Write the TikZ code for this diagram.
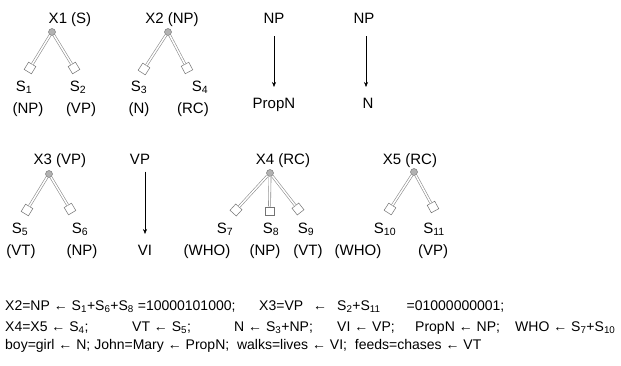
\documentclass[tikz,border=0pt]{standalone}
\usepackage{fontspec}
\setmainfont{Liberation Sans}
\usetikzlibrary{arrows.meta}
\newcommand\sbx[1]{\textsubscript{#1}}
\begin{document}
\begin{tikzpicture}[x=1pt,y=-1pt,
  lbl/.style={font=\fontsize{15}{18}\selectfont, inner sep=0pt, anchor=base},
  txt/.style={font=\fontsize{14}{17}\selectfont, inner sep=0pt, anchor=base west},
  rootdot/.style={circle, fill=gray!60, draw=gray!85!black, line width=0.4pt, minimum size=7pt, inner sep=0pt},
  leafbox/.style={rectangle, draw=gray!90!black, fill=white, line width=0.5pt, minimum size=8.5pt, inner sep=0pt},
  conn/.style={draw=gray!90, line width=0.6pt, double=white, double distance=1.5pt},
  arr/.style={-{Stealth[length=5pt,width=4pt]}, line width=0.5pt}
]
\useasboundingbox[fill=white] (0,0) rectangle (621,365);

% ---------- tree X1 ----------
\node[lbl] (x1) at (70,23) {X1 (S)};
\node[rootdot] (r1) at (52,32) {};
\coordinate (c1) at (30,68);
\coordinate (c2) at (74,68);
\path (r1.center) -- (c1) node[leafbox, sloped, pos=1] (b1) {};
\path (r1.center) -- (c2) node[leafbox, sloped, pos=1] (b2) {};
\draw[conn] (r1) -- (b1);
\draw[conn] (r1) -- (b2);
\node[lbl] (s1) at (24,91) {S\sbx{1}};
\node[lbl] (s2) at (78,91) {S\sbx{2}};
\node[lbl] (t1) at (28,113.5) {(NP)};
\node[lbl] (t2) at (81,113.5) {(VP)};

% ---------- tree X2 ----------
\node[lbl] (x2) at (172,23) {X2 (NP)};
\node[rootdot] (r2) at (168,32) {};
\coordinate (c3) at (144,69);
\coordinate (c4) at (187,68);
\path (r2.center) -- (c3) node[leafbox, sloped, pos=1] (b3) {};
\path (r2.center) -- (c4) node[leafbox, sloped, pos=1] (b4) {};
\draw[conn] (r2) -- (b3);
\draw[conn] (r2) -- (b4);
\node[lbl] (s3) at (139,91) {S\sbx{3}};
\node[lbl] (s4) at (200,91) {S\sbx{4}};
\node[lbl] (t3) at (139,113.5) {(N)};
\node[lbl] (t4) at (193,113.5) {(RC)};

% ---------- NP -> PropN, NP -> N ----------
\node[lbl] (np1) at (274,23) {NP};
\node[lbl] (propn) at (274,108.5) {PropN};
\draw[arr, shorten <=13pt, shorten >=11pt] (propn |- np1.south) -- (propn.north);
\node[lbl] (np2) at (364,23) {NP};
\node[lbl] (n) at (368,108.5) {N};
\draw[arr, shorten <=13pt, shorten >=11pt] ([xshift=-2pt]n |- np2.south) -- ([xshift=-2pt]n.north);

% ---------- tree X3 ----------
\node[lbl] (x3) at (60,164.5) {X3 (VP)};
\node[rootdot] (r3) at (49,174) {};
\coordinate (c5) at (27,210);
\coordinate (c6) at (70,209);
\path (r3.center) -- (c5) node[leafbox, sloped, pos=1] (b5) {};
\path (r3.center) -- (c6) node[leafbox, sloped, pos=1] (b6) {};
\draw[conn] (r3) -- (b5);
\draw[conn] (r3) -- (b6);
\node[lbl] (s5) at (20,233.5) {S\sbx{5}};
\node[lbl] (s6) at (80,233.5) {S\sbx{6}};
\node[lbl] (t5) at (21,255.5) {(VT)};
\node[lbl] (t6) at (82,255.5) {(NP)};

% ---------- VP -> VI ----------
\node[lbl] (vp) at (140,164.5) {VP};
\node[lbl] (vi) at (145,255.5) {VI};
\draw[arr, shorten <=7pt, shorten >=11pt] (vi |- vp.south) -- (vi.north);

% ---------- tree X4 ----------
\node[lbl] (x4) at (283,164.5) {X4 (RC)};
\node[rootdot] (r4) at (270,173) {};
\coordinate (c7) at (236,210);
\coordinate (c9) at (298,209);
\path (r4.center) -- (c7) node[leafbox, sloped, pos=1] (b7) {};
\node[leafbox] (b8) at (269.5,211) {};
\path (r4.center) -- (c9) node[leafbox, sloped, pos=1] (b9) {};
\draw[conn] (r4) -- (b7);
\draw[conn] (r4.south) -- (b8.north);
\draw[conn] (r4) -- (b9);
\node[lbl] (s7) at (225,233.5) {S\sbx{7}};
\node[lbl] (s8) at (271,233.5) {S\sbx{8}};
\node[lbl] (s9) at (306,233.5) {S\sbx{9}};
\node[lbl] (t7) at (207,255.5) {(WHO)};
\node[lbl] (t8) at (265,255.5) {(NP)};
\node[lbl] (t9) at (308,255.5) {(VT)};

% ---------- tree X5 ----------
\node[lbl] (x5) at (410,164.5) {X5 (RC)};
\node[rootdot] (r5) at (414,172) {};
\coordinate (c10) at (390,209);
\coordinate (c11) at (433,207);
\path (r5.center) -- (c10) node[leafbox, sloped, pos=1] (b10) {};
\path (r5.center) -- (c11) node[leafbox, sloped, pos=1] (b11) {};
\draw[conn] (r5) -- (b10);
\draw[conn] (r5) -- (b11);
\node[lbl] (s10) at (385,233.5) {S\sbx{10}};
\node[lbl] (s11) at (434,233.5) {S\sbx{11}};
\node[lbl] (t10) at (358,255.5) {(WHO)};
\node[lbl] (t11) at (433,255.5) {(VP)};

% ---------- equations ----------
\node[txt] (e1) at (5,310) {X2=NP ← S\sbx{1}+S\sbx{6}+S\sbx{8} =10000101000;};
\node[txt] (e2) at (259,310) {X3=VP\hspace{10pt}←\hspace{10pt}S\sbx{2}+S\sbx{11}\hspace{26pt}=01000000001;};

\node[txt] (f1) at (5,331) {X4=X5 ← S\sbx{4};};
\node[txt] (f2) at (132,331) {VT ← S\sbx{5};};
\node[txt] (f3) at (234,331) {N ← S\sbx{3}+NP;};
\node[txt] (f4) at (337,331) {VI ← VP;};
\node[txt] (f5) at (415,331) {PropN ← NP;};
\node[txt] (f6) at (515,331) {WHO ← S\sbx{7}+S\sbx{10}};

\node[txt] (g1) at (5,349) {boy=girl ← N; John=Mary ← PropN;\ \ walks=lives ← VI;\ \ feeds=chases ← VT};
\end{tikzpicture}
\end{document}
